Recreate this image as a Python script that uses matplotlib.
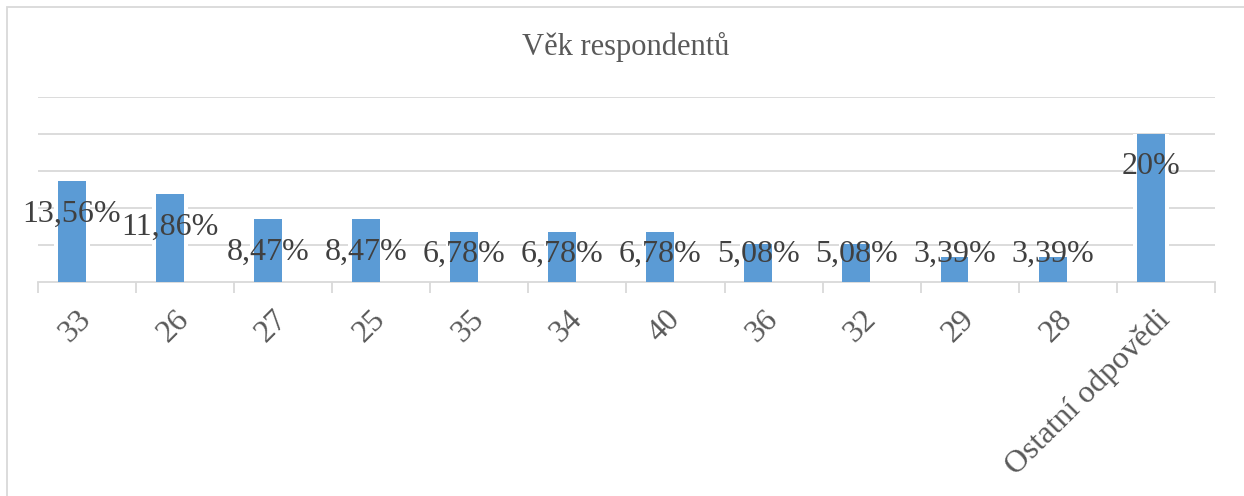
import numpy as np
import matplotlib
matplotlib.use("Agg")
import matplotlib.pyplot as plt
from matplotlib.patches import Rectangle

plt.rcParams['font.family'] = ['Liberation Serif', 'DejaVu Serif']

categories = ["33", "26", "27", "25", "35", "34", "40", "36", "32", "29", "28", "Ostatní odpovědi"]
values = [13.56, 11.86, 8.47, 8.47, 6.78, 6.78, 6.78, 5.08, 5.08, 3.39, 3.39, 20]
labels = ["13,56%", "11,86%", "8,47%", "8,47%", "6,78%", "6,78%", "6,78%",
          "5,08%", "5,08%", "3,39%", "3,39%", "20%"]
grid_vals = [5, 10, 15, 20, 25]

W, H = 1244, 496
fig = plt.figure(figsize=(W/100, H/100), dpi=100)

# chart border (Excel chart area)
fig.patches.append(Rectangle((7/W, -0.1), 1.2, 1 - 7/H + 0.1, transform=fig.transFigure,
                             fill=False, edgecolor="#D9D9D9", lw=1.3))

ax = fig.add_axes([38/W, 1 - 282/H, (1215-38)/W, (282-96.7)/H])

x = np.arange(len(categories))
off = -0.156
bw = 0.285

for g in grid_vals:
    ax.axhline(g, color="#D9D9D9", lw=1.3, zorder=1)
ax.bar(x + off, values, width=bw + 0.08, color="white", zorder=2)
ax.bar(x + off, values, width=bw, color="#5B9BD5", zorder=3)

for xi, v, lab in zip(x, values, labels):
    bar_px = v * (282 - 96.7) / 25
    if bar_px - 32 > 28:
        ax.annotate(lab, (xi + off, v), xytext=(0, -33), textcoords="offset pixels",
                    ha="center", va="center", fontsize=23, color="#404040", zorder=5)
    else:
        ax.annotate(lab, (xi + off, 0), xytext=(0, 28), textcoords="offset pixels",
                    ha="center", va="center", fontsize=23, color="#404040", zorder=5)

ax.set_xlim(-0.5, len(categories) - 0.5)
ax.set_ylim(0, 25)
ax.set_yticks([])
for s in ["top", "right", "left"]:
    ax.spines[s].set_visible(False)
ax.spines["bottom"].set_color("#D9D9D9")
ax.spines["bottom"].set_linewidth(1.3)

ax.set_xticks(np.arange(len(categories) + 1) - 0.5, minor=True)
ax.tick_params(axis="x", which="minor", length=8, width=1.3, color="#D9D9D9")
ax.set_xticks(x)
ax.set_xticklabels(categories, rotation=45, ha="right", va="center", rotation_mode="anchor",
                   fontsize=23, color="#595959")
ax.tick_params(axis="x", which="major", length=0, pad=24)

fig.text(626/W, 1 - 55/H, "Věk respondentů", ha="center", va="baseline",
         fontsize=22, color="#595959")

fig.savefig("out.png", dpi=100)
